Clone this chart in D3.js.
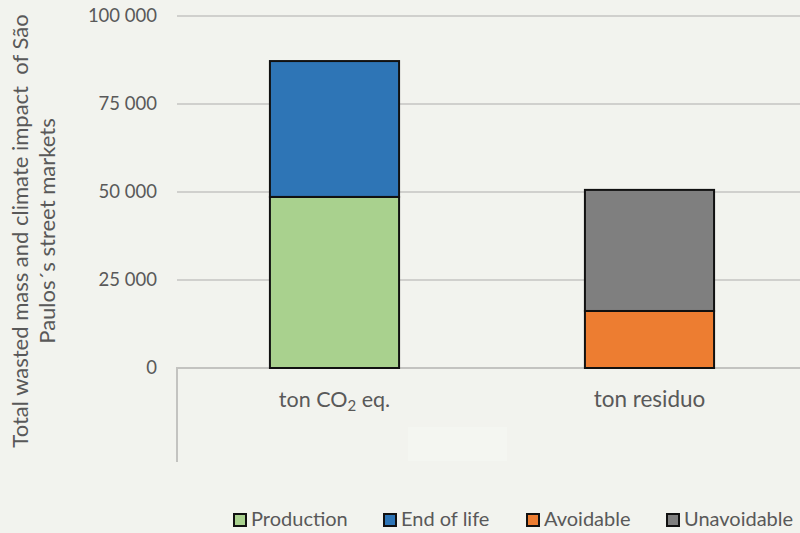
<!DOCTYPE html>
<html>
<head>
<meta charset="utf-8">
<script src="https://cdn.jsdelivr.net/npm/d3@7"></script>
<style>
  html, body { margin: 0; padding: 0; background: #f2f3ee; }
  svg { display: block; font-family: Lato, "Open Sans", sans-serif; }
</style>
</head>
<body>
<svg id="chart" width="800" height="533"></svg>
<script>
// Categories and stacked series
const categories = ["ton CO2 eq.", "ton residuo"];
const seriesNames = ["Production", "End of life", "Avoidable", "Unavoidable"];
const production  = [48600, 0];
const endOfLife   = [38600, 0];
const avoidable   = [0, 16200];
const unavoidable = [0, 34400];
const seriesColors = ["#a9d18e", "#2e75b6", "#ed7d31", "#7f7f7f"];
const yTicks = [0, 25000, 50000, 75000, 100000];

const rows = categories.map((c, i) => ({
  category: c,
  "Production": production[i],
  "End of life": endOfLife[i],
  "Avoidable": avoidable[i],
  "Unavoidable": unavoidable[i]
}));

const svg = d3.select("#chart");
const W = 800;
const plot = { left: 177, right: 807, top: 16, bottom: 368 };
const textColor = "#595959";

const x = d3.scaleBand().domain(categories).range([plot.left, plot.right]).paddingInner(0.59).paddingOuter(0.295);
const y = d3.scaleLinear().domain([0, 100000]).range([plot.bottom, plot.top]);
const color = d3.scaleOrdinal().domain(seriesNames).range(seriesColors);

const fmt = v => d3.format(",")(v).replace(/,/g, " ");

// Gridlines
svg.append("g").selectAll("line")
  .data(yTicks.filter(t => t > 0))
  .join("line")
  .attr("x1", plot.left).attr("x2", W)
  .attr("y1", d => y(d)).attr("y2", d => y(d))
  .attr("stroke", "#d0d0cd").attr("stroke-width", 2);

// Faint label-area highlight below the axis
svg.append("rect")
  .attr("x", 408).attr("y", 427).attr("width", 99).attr("height", 34)
  .attr("fill", "#f4f6f1");

// Category axis frame
svg.append("path")
  .attr("d", `M${plot.left},462 V${plot.bottom} H${W}`)
  .attr("fill", "none").attr("stroke", "#c3c3c0").attr("stroke-width", 2);

// Y tick labels
const yAxis = d3.axisLeft(y).tickValues(yTicks).tickFormat(fmt).tickSize(0).tickPadding(0);
const yg = svg.append("g").attr("transform", "translate(157,0)").call(yAxis);
yg.select(".domain").remove();
yg.selectAll("text")
  .attr("fill", textColor).attr("font-size", 18.5)
  .style("font-family", "Lato, 'Open Sans', sans-serif");

// Stacked bars
const stack = d3.stack().keys(seriesNames);
const layers = stack(rows);
svg.append("g").selectAll("g")
  .data(layers)
  .join("g")
  .attr("fill", d => color(d.key))
  .selectAll("rect")
  .data(d => d.filter(p => p[1] - p[0] > 0))
  .join("rect")
  .attr("x", d => x(d.data.category))
  .attr("width", x.bandwidth())
  .attr("y", d => y(d[1]))
  .attr("height", d => y(d[0]) - y(d[1]))
  .attr("stroke", "#111").attr("stroke-width", 2);

// Category labels
const catLabels = svg.append("g");
catLabels.append("text")
  .attr("x", x(categories[0]) + x.bandwidth() / 2).attr("y", 407)
  .attr("text-anchor", "middle").attr("fill", textColor).attr("font-size", 21.5)
  .call(t => {
    t.append("tspan").text("ton CO");
    t.append("tspan").text("2").attr("font-size", 15).attr("dy", 4);
    t.append("tspan").text(" eq.").attr("dy", -4);
  });
catLabels.append("text")
  .attr("x", x(categories[1]) + x.bandwidth() / 2).attr("y", 407)
  .attr("text-anchor", "middle").attr("fill", textColor).attr("font-size", 22.5)
  .text(categories[1]);

// Y axis title (two lines)
const title = svg.append("text")
  .attr("transform", "translate(0,231) rotate(-90)")
  .attr("text-anchor", "middle").attr("fill", textColor).attr("font-size", 22)
  .style("white-space", "pre");
title.append("tspan").attr("x", 0).attr("y", 28).text("Total wasted mass and climate impact  of São");
title.append("tspan").attr("x", 0).attr("y", 55).text("Paulos´s street markets");

// Legend
const legendX = [234, 384, 527, 667];
const lg = svg.append("g").selectAll("g")
  .data(seriesNames)
  .join("g")
  .attr("transform", (d, i) => `translate(${legendX[i]},514)`);
lg.append("rect")
  .attr("width", 12).attr("height", 12)
  .attr("fill", d => color(d)).attr("stroke", "#111").attr("stroke-width", 2);
lg.append("text")
  .attr("x", 17).attr("y", 12)
  .attr("fill", textColor).attr("font-size", 20)
  .text(d => d);
</script>
</body>
</html>
